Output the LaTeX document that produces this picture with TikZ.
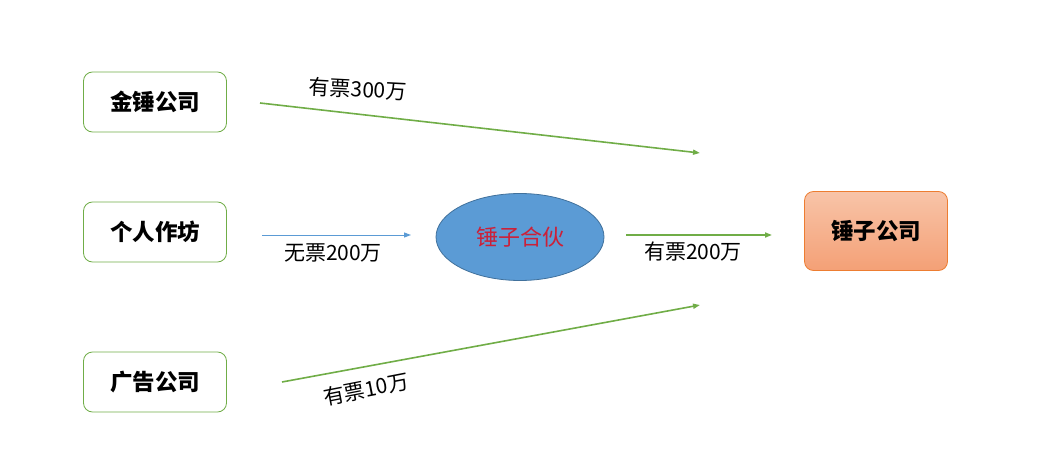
\documentclass[tikz,border=0pt]{standalone}
\usepackage{fontspec}
\setmainfont{Noto Sans CJK SC}
\usetikzlibrary{arrows.meta,shapes.geometric}
\definecolor{boxgreen}{RGB}{112,173,71}
\definecolor{flowblue}{RGB}{91,155,213}
\definecolor{edgeblue}{RGB}{65,113,156}
\definecolor{partnerred}{RGB}{204,32,56}
\definecolor{orangeedge}{RGB}{237,125,49}
\definecolor{orangetop}{RGB}{248,196,168}
\definecolor{orangebot}{RGB}{244,160,118}
\begin{document}
\begin{tikzpicture}[x=1pt,y=-1pt,
    company/.style={draw=boxgreen,fill=white,rounded corners=9pt,
        minimum width=143pt,minimum height=60pt,line width=0.8pt,
        font=\fontsize{22.5}{26}\selectfont\bfseries},
    flow/.style={draw=boxgreen,line width=1.6pt,-{Triangle[length=7pt,width=5pt]}},
    thinflow/.style={draw=flowblue,line width=1pt,-{Triangle[length=7pt,width=5pt]}},
    amount/.style={font=\fontsize{21}{24}\selectfont}]
    \useasboundingbox (0,0) rectangle (1041,465);
    % suppliers
    \node[company] (jinchui) at (155,102) {金锤公司};
    \node[company] (zuofang) at (155,232) {个人作坊};
    \node[company] (guanggao) at (155,382) {广告公司};
    % partnership and company
    \node[ellipse,draw=edgeblue,fill=flowblue,line width=0.8pt,inner sep=0pt,
        minimum width=168pt,minimum height=87pt,text=partnerred,
        font=\fontsize{22}{25}\selectfont] (hehuo) at (520,237) {锤子合伙};
    \node[draw=orangeedge,top color=orangetop,bottom color=orangebot,
        rounded corners=9pt,minimum width=143pt,minimum height=79pt,line width=0.8pt,
        font=\fontsize{22.5}{26}\selectfont\bfseries] (chuizi) at (876,231) {锤子公司};
    % free arrow ends
    \coordinate (a1s) at (260,103);
    \coordinate (a1e) at (700,153);
    \coordinate (a2s) at (262,235);
    \coordinate (a2e) at (411,235);
    \coordinate (a3s) at (626,235);
    \coordinate (a3e) at (772,235);
    \coordinate (a4s) at (282,382);
    \coordinate (a4e) at (700,305);
    \draw[flow] (a1s) -- (a1e);
    \draw[thinflow] (a2s) -- (a2e);
    \draw[flow] (a3s) -- (a3e);
    \draw[flow] (a4s) -- (a4e);
    % amounts
    \node[amount,rotate=-3] (l300) at (358,89) {有票300万};
    \node[amount] (l200n) at (333,253) {无票200万};
    \node[amount] (l200y) at (693,252) {有票200万};
    \node[amount,rotate=11] (l10) at (366,389) {有票10万};
\end{tikzpicture}
\end{document}
